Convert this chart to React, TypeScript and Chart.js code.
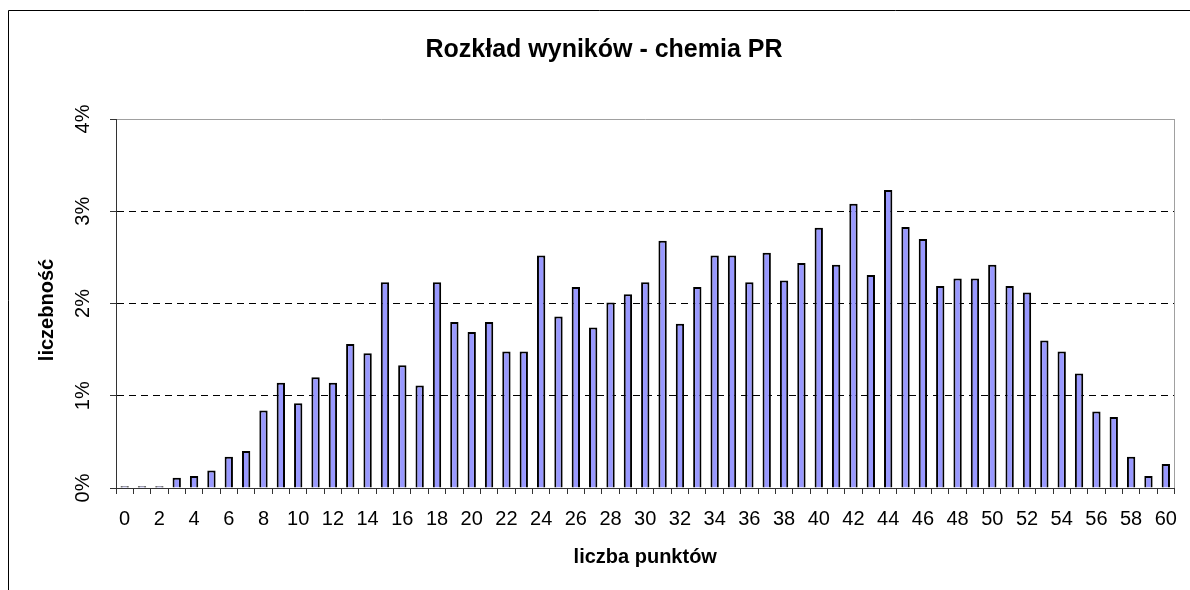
import React, { useEffect, useRef } from "react";
import { Chart, registerables } from "chart.js";

Chart.register(...registerables);

const titleText = "Rozkład wyników - chemia PR";
const xTitle = "liczba punktów";
const yTitle = "liczebność";
const points: string[] = Array.from({ length: 61 }, (_, i) => String(i));
const shares: number[] = [
  0.02, 0.02, 0.02, 0.11, 0.13, 0.19, 0.34, 0.40, 0.84, 1.14,
  0.92, 1.20, 1.14, 1.56, 1.46, 2.23, 1.33, 1.11, 2.23, 1.80,
  1.69, 1.80, 1.48, 1.48, 2.52, 1.86, 2.18, 1.74, 2.01, 2.10,
  2.23, 2.68, 1.78, 2.18, 2.52, 2.52, 2.23, 2.55, 2.25, 2.44,
  2.82, 2.42, 3.08, 2.31, 3.23, 2.83, 2.70, 2.19, 2.27, 2.27,
  2.42, 2.19, 2.12, 1.60, 1.48, 1.24, 0.83, 0.77, 0.34, 0.13, 0.26,
];
const yTicks: number[] = [0, 1, 2, 3, 4];
const yTickLabels: string[] = ["0%", "1%", "2%", "3%", "4%"];

const FONT = '"Liberation Sans", Arial, sans-serif';

const decor = {
  id: "decor",
  afterDraw(chart: any) {
    const { ctx, chartArea, scales } = chart;
    ctx.save();
    // outer frame
    ctx.strokeStyle = "#000";
    ctx.lineWidth = 1;
    ctx.beginPath();
    ctx.moveTo(8.5, 600);
    ctx.lineTo(8.5, 10.5);
    ctx.lineTo(1200, 10.5);
    ctx.stroke();
    // right plot border
    ctx.strokeStyle = "#a0a0a0";
    ctx.beginPath();
    ctx.moveTo(Math.round(chartArea.right) + 0.5, chartArea.top);
    ctx.lineTo(Math.round(chartArea.right) + 0.5, chartArea.bottom);
    ctx.stroke();
    ctx.fillStyle = "#000";
    ctx.textAlign = "center";
    ctx.textBaseline = "middle";
    // title
    ctx.font = `bold 25px ${FONT}`;
    ctx.fillText(titleText, 604, 50);
    // x title
    ctx.font = `bold 20px ${FONT}`;
    ctx.fillText(xTitle, (chartArea.left + chartArea.right) / 2, 557);
    // y title
    ctx.save();
    ctx.translate(47, 310);
    ctx.rotate(-Math.PI / 2);
    ctx.fillText(yTitle, 0, 0);
    ctx.restore();
    // y tick labels
    ctx.font = `20px ${FONT}`;
    yTicks.forEach((v, i) => {
      const y = scales.y.getPixelForValue(v);
      ctx.save();
      ctx.translate(83, y);
      ctx.rotate(-Math.PI / 2);
      ctx.fillText(yTickLabels[i], 0, 0);
      ctx.restore();
    });
    ctx.restore();
  },
};

export default function App() {
  const ref = useRef<HTMLCanvasElement>(null);
  useEffect(() => {
    if (!ref.current) return;
    const chart = new Chart(ref.current, {
      type: "bar",
      data: {
        labels: points,
        datasets: [
          {
            data: shares,
            backgroundColor: "#9999ff",
            borderColor: "#000000",
            borderWidth: 2,
            barPercentage: 0.48,
            categoryPercentage: 1,
          },
        ],
      },
      options: {
        responsive: false,
        animation: false,
        devicePixelRatio: 1,
        layout: { padding: { left: 0, top: 119, right: 7, bottom: 0 } },
        plugins: { legend: { display: false }, tooltip: { enabled: false }, title: { display: false } },
        scales: {
          x: {
            afterFit: (s: any) => { s.height = 102; },
            grid: {
              offset: true,
              drawOnChartArea: false,
              drawTicks: true,
              tickLength: 6,
              tickColor: "#333",
              color: "#333",
            },
            border: { color: "#333", width: 1 },
            ticks: {
              autoSkip: false,
              maxRotation: 0,
              minRotation: 0,
              padding: 13,
              color: "#000",
              font: { family: FONT, size: 20 },
              callback: (_v: any, i: number) => (i % 2 === 0 ? points[i] : ""),
            },
          },
          y: {
            min: 0,
            max: 4,
            afterFit: (s: any) => { s.width = 116; },
            ticks: { display: false, stepSize: 1 },
            grid: {
              drawTicks: true,
              tickLength: 6,
              tickColor: "#333",
              lineWidth: 1,
              color: (c: any) =>
                c.tick && c.tick.value === 4 ? "#a0a0a0" : c.tick && c.tick.value === 0 ? "rgba(0,0,0,0)" : "#000",
            },
            border: {
              color: "#333",
              width: 1,
              dash: (c: any) =>
                c.type === "tick" && c.tick && c.tick.value > 0 && c.tick.value < 4 ? [7, 5] : [],
            },
          },
        },
      },
      plugins: [decor],
    });
    return () => chart.destroy();
  }, []);
  return (
    <div style={{ position: "fixed", left: 0, top: 0, width: 1190, height: 590, background: "#fff" }}>
      <canvas ref={ref} width={1190} height={590} style={{ display: "block" }} />
    </div>
  );
}
